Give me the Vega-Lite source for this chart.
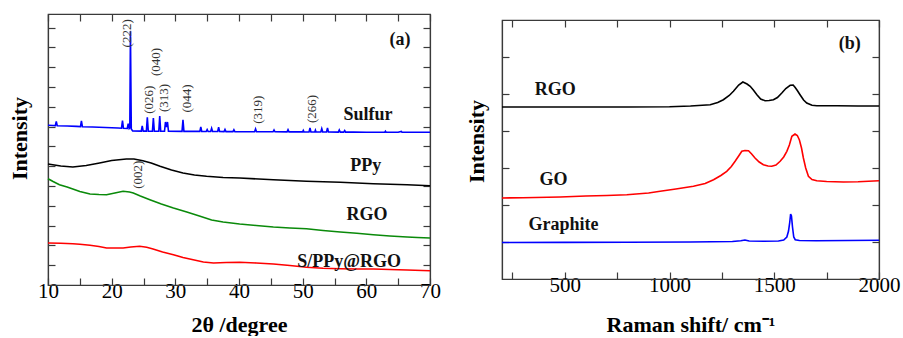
{
  "$schema": "https://vega.github.io/schema/vega-lite/v6.json",
  "padding": {"left": 7, "top": 12, "right": 5, "bottom": 0},
  "background": "white",
  "bounds": "flush",
  "center": true,
  "spacing": 72,
  "config": {
    "view": {"stroke": "#3a3a3a", "strokeWidth": 1.2},
    "font": "Liberation Serif",
    "axis": {
      "grid": false,
      "domainColor": "#3a3a3a",
      "domainWidth": 1.2,
      "tickColor": "#3a3a3a",
      "tickWidth": 1.2,
      "tickSize": -7,
      "labelFont": "Liberation Serif",
      "labelFontSize": 21,
      "labelColor": "black",
      "labelFlush": false,
      "labelOverlap": false,
      "titleFont": "Liberation Serif",
      "titleFontSize": 22,
      "titleFontWeight": "bold",
      "titleColor": "black"
    }
  },
  "resolve": {"scale": {"color": "independent"}},
  "datasets": {
    "xrd": [
      {"s":"Sulfur","x":10,"v":159.7},{"s":"Sulfur","x":10.8,"v":159.5},{"s":"Sulfur","x":11.15,"v":159.4},{"s":"Sulfur","x":11.3,"v":163.7},{"s":"Sulfur","x":11.45,"v":159.3},{"s":"Sulfur","x":13,"v":159},{"s":"Sulfur","x":14.5,"v":158.6},{"s":"Sulfur","x":15.1,"v":158.4},{"s":"Sulfur","x":15.25,"v":164},{"s":"Sulfur","x":15.4,"v":158.3},{"s":"Sulfur","x":17,"v":158},{"s":"Sulfur","x":19,"v":157.5},{"s":"Sulfur","x":21,"v":157},{"s":"Sulfur","x":21.55,"v":156.8},{"s":"Sulfur","x":21.7,"v":164.3},{"s":"Sulfur","x":21.85,"v":156.7},{"s":"Sulfur","x":22.45,"v":156.5},{"s":"Sulfur","x":22.6,"v":161.3},{"s":"Sulfur","x":22.75,"v":156.4},{"s":"Sulfur","x":22.85,"v":157},{"s":"Sulfur","x":22.95,"v":253.7},{"s":"Sulfur","x":23.08,"v":156},{"s":"Sulfur","x":23.3,"v":154},{"s":"Sulfur","x":24.65,"v":153.9},{"s":"Sulfur","x":24.8,"v":159},{"s":"Sulfur","x":24.95,"v":153.9},{"s":"Sulfur","x":25.45,"v":153.9},{"s":"Sulfur","x":25.6,"v":167.7},{"s":"Sulfur","x":25.75,"v":153.9},{"s":"Sulfur","x":26.4,"v":153.8},{"s":"Sulfur","x":26.55,"v":167},{"s":"Sulfur","x":26.7,"v":153.8},{"s":"Sulfur","x":27.4,"v":153.8},{"s":"Sulfur","x":27.55,"v":169},{"s":"Sulfur","x":27.7,"v":153.8},{"s":"Sulfur","x":28.3,"v":153.7},{"s":"Sulfur","x":28.45,"v":163},{"s":"Sulfur","x":28.6,"v":158},{"s":"Sulfur","x":28.77,"v":163},{"s":"Sulfur","x":28.92,"v":153.7},{"s":"Sulfur","x":31.05,"v":153.6},{"s":"Sulfur","x":31.2,"v":165.3},{"s":"Sulfur","x":31.35,"v":153.6},{"s":"Sulfur","x":33.85,"v":153.6},{"s":"Sulfur","x":34.0,"v":158},{"s":"Sulfur","x":34.15,"v":153.6},{"s":"Sulfur","x":34.85,"v":153.5},{"s":"Sulfur","x":35.0,"v":155.5},{"s":"Sulfur","x":35.15,"v":153.5},{"s":"Sulfur","x":35.55,"v":153.5},{"s":"Sulfur","x":35.7,"v":156.7},{"s":"Sulfur","x":35.85,"v":153.5},{"s":"Sulfur","x":36.65,"v":153.5},{"s":"Sulfur","x":36.8,"v":157.7},{"s":"Sulfur","x":36.95,"v":153.5},{"s":"Sulfur","x":37.65,"v":153.4},{"s":"Sulfur","x":37.8,"v":155.5},{"s":"Sulfur","x":37.95,"v":153.4},{"s":"Sulfur","x":39.05,"v":153.4},{"s":"Sulfur","x":39.2,"v":155.3},{"s":"Sulfur","x":39.35,"v":153.4},{"s":"Sulfur","x":42.45,"v":153.3},{"s":"Sulfur","x":42.6,"v":156},{"s":"Sulfur","x":42.75,"v":153.3},{"s":"Sulfur","x":45.35,"v":153.2},{"s":"Sulfur","x":45.5,"v":155},{"s":"Sulfur","x":45.65,"v":153.2},{"s":"Sulfur","x":47.55,"v":153.1},{"s":"Sulfur","x":47.7,"v":155.3},{"s":"Sulfur","x":47.85,"v":153.1},{"s":"Sulfur","x":50,"v":153.1},{"s":"Sulfur","x":50.1,"v":154.5},{"s":"Sulfur","x":50.2,"v":153.1},{"s":"Sulfur","x":51.0,"v":153},{"s":"Sulfur","x":51.15,"v":157},{"s":"Sulfur","x":51.3,"v":153},{"s":"Sulfur","x":51.9,"v":153},{"s":"Sulfur","x":52.0,"v":154.8},{"s":"Sulfur","x":52.1,"v":153},{"s":"Sulfur","x":52.85,"v":153},{"s":"Sulfur","x":53.0,"v":156.3},{"s":"Sulfur","x":53.15,"v":153},{"s":"Sulfur","x":53.75,"v":153},{"s":"Sulfur","x":53.9,"v":157},{"s":"Sulfur","x":54.05,"v":153},{"s":"Sulfur","x":55.6,"v":152.9},{"s":"Sulfur","x":55.75,"v":155},{"s":"Sulfur","x":55.9,"v":152.9},{"s":"Sulfur","x":56.45,"v":152.9},{"s":"Sulfur","x":56.6,"v":154.5},{"s":"Sulfur","x":56.75,"v":152.9},{"s":"Sulfur","x":58,"v":152.9},{"s":"Sulfur","x":60,"v":152.8},{"s":"Sulfur","x":62.9,"v":152.8},{"s":"Sulfur","x":63,"v":153.8},{"s":"Sulfur","x":63.1,"v":152.8},{"s":"Sulfur","x":65,"v":152.8},{"s":"Sulfur","x":65.5,"v":153.5},{"s":"Sulfur","x":65.6,"v":152.8},{"s":"Sulfur","x":68,"v":152.7},{"s":"Sulfur","x":70,"v":152.7},
      {"s":"PPy","x":10,"v":121},{"s":"PPy","x":11,"v":120},{"s":"PPy","x":12,"v":119},{"s":"PPy","x":13.9,"v":118},{"s":"PPy","x":16,"v":119.5},{"s":"PPy","x":18.1,"v":122},{"s":"PPy","x":20,"v":124.5},{"s":"PPy","x":22.3,"v":126},{"s":"PPy","x":23.5,"v":126},{"s":"PPy","x":24.9,"v":124.3},{"s":"PPy","x":26.2,"v":122},{"s":"PPy","x":27.6,"v":118.7},{"s":"PPy","x":29.4,"v":115},{"s":"PPy","x":31.2,"v":112},{"s":"PPy","x":33,"v":110},{"s":"PPy","x":34.9,"v":108.7},{"s":"PPy","x":37.5,"v":107.5},{"s":"PPy","x":40.1,"v":107},{"s":"PPy","x":45.4,"v":105.3},{"s":"PPy","x":50.6,"v":103.7},{"s":"PPy","x":55.9,"v":102.7},{"s":"PPy","x":61.1,"v":101.3},{"s":"PPy","x":66.4,"v":100.3},{"s":"PPy","x":70,"v":99.3},
      {"s":"RGO","x":10,"v":106.3},{"s":"RGO","x":10.8,"v":103.5},{"s":"RGO","x":11.8,"v":100.3},{"s":"RGO","x":13,"v":98},{"s":"RGO","x":13.9,"v":96},{"s":"RGO","x":15,"v":93.5},{"s":"RGO","x":16.6,"v":91},{"s":"RGO","x":18,"v":90.5},{"s":"RGO","x":19.2,"v":90.3},{"s":"RGO","x":20.5,"v":92},{"s":"RGO","x":21.8,"v":93.7},{"s":"RGO","x":22.8,"v":93},{"s":"RGO","x":23.4,"v":92},{"s":"RGO","x":24.5,"v":89},{"s":"RGO","x":26,"v":85.3},{"s":"RGO","x":27.8,"v":81},{"s":"RGO","x":29.7,"v":77},{"s":"RGO","x":31.8,"v":73},{"s":"RGO","x":33.9,"v":68.7},{"s":"RGO","x":35.7,"v":65},{"s":"RGO","x":37.5,"v":63},{"s":"RGO","x":40.1,"v":61},{"s":"RGO","x":42.7,"v":59.5},{"s":"RGO","x":45.4,"v":58},{"s":"RGO","x":48,"v":57},{"s":"RGO","x":50.6,"v":56.3},{"s":"RGO","x":53.2,"v":54.5},{"s":"RGO","x":55.9,"v":53},{"s":"RGO","x":58.5,"v":51.8},{"s":"RGO","x":61.1,"v":50.3},{"s":"RGO","x":63.7,"v":49},{"s":"RGO","x":66.4,"v":48},{"s":"RGO","x":68,"v":47.5},{"s":"RGO","x":70,"v":47},
      {"s":"S/PPy@RGO","x":10,"v":42},{"s":"S/PPy@RGO","x":12,"v":41.8},{"s":"S/PPy@RGO","x":13.9,"v":41.3},{"s":"S/PPy@RGO","x":15,"v":40.8},{"s":"S/PPy@RGO","x":16.6,"v":39.7},{"s":"S/PPy@RGO","x":18,"v":38.5},{"s":"S/PPy@RGO","x":19.2,"v":37},{"s":"S/PPy@RGO","x":20.5,"v":37},{"s":"S/PPy@RGO","x":21.8,"v":37},{"s":"S/PPy@RGO","x":23,"v":38},{"s":"S/PPy@RGO","x":24.4,"v":38.7},{"s":"S/PPy@RGO","x":25.5,"v":37.7},{"s":"S/PPy@RGO","x":26.5,"v":36},{"s":"S/PPy@RGO","x":28,"v":33},{"s":"S/PPy@RGO","x":29.7,"v":30.3},{"s":"S/PPy@RGO","x":31.2,"v":27.5},{"s":"S/PPy@RGO","x":32.8,"v":25.3},{"s":"S/PPy@RGO","x":34.4,"v":23},{"s":"S/PPy@RGO","x":36,"v":22},{"s":"S/PPy@RGO","x":38,"v":22.5},{"s":"S/PPy@RGO","x":40.1,"v":22.7},{"s":"S/PPy@RGO","x":42.7,"v":22},{"s":"S/PPy@RGO","x":45.4,"v":21},{"s":"S/PPy@RGO","x":48,"v":19.5},{"s":"S/PPy@RGO","x":50.6,"v":17.7},{"s":"S/PPy@RGO","x":53.2,"v":16.8},{"s":"S/PPy@RGO","x":55.9,"v":16.3},{"s":"S/PPy@RGO","x":58.5,"v":16},{"s":"S/PPy@RGO","x":61.1,"v":16},{"s":"S/PPy@RGO","x":63.7,"v":15.5},{"s":"S/PPy@RGO","x":66.4,"v":15},{"s":"S/PPy@RGO","x":70,"v":14.3}
    ],
    "xrdSeriesLabels": [
      {"x":60.27,"v":170.3,"t":"Sulfur"},{"x":59.9,"v":119.3,"t":"PPy"},{"x":60.1,"v":70.3,"t":"RGO"},{"x":57.3,"v":23,"t":"S/PPy@RGO"},{"x":65.3,"v":245.3,"t":"(a)"}
    ],
    "xrdPeakLabels": [
      {"x":22.48,"v":251.7,"t":"(222)"},{"x":25.83,"v":185.3,"t":"(026)"},{"x":26.89,"v":223,"t":"(040)"},{"x":28.24,"v":187,"t":"(313)"},{"x":31.76,"v":186.5,"t":"(044)"},{"x":43.0,"v":175.3,"t":"(319)"},{"x":51.5,"v":176,"t":"(266)"},{"x":24.15,"v":110.3,"t":"(002)"}
    ],
    "raman": [
      {"s":"RGO","x":200,"v":172},{"s":"RGO","x":400,"v":172},{"s":"RGO","x":600,"v":172},{"s":"RGO","x":800,"v":172},{"s":"RGO","x":1000,"v":172.3},{"s":"RGO","x":1100,"v":173},{"s":"RGO","x":1194,"v":174.3},{"s":"RGO","x":1230,"v":176.5},{"s":"RGO","x":1257,"v":179.3},{"s":"RGO","x":1285,"v":183.5},{"s":"RGO","x":1305,"v":187.7},{"s":"RGO","x":1330,"v":194},{"s":"RGO","x":1350,"v":197},{"s":"RGO","x":1370,"v":195},{"s":"RGO","x":1385,"v":192.7},{"s":"RGO","x":1400,"v":189},{"s":"RGO","x":1417,"v":184.3},{"s":"RGO","x":1435,"v":180},{"s":"RGO","x":1456,"v":178.3},{"s":"RGO","x":1475,"v":178.5},{"s":"RGO","x":1496,"v":179.3},{"s":"RGO","x":1515,"v":181.5},{"s":"RGO","x":1536,"v":186},{"s":"RGO","x":1555,"v":190.5},{"s":"RGO","x":1576,"v":193.7},{"s":"RGO","x":1590,"v":194},{"s":"RGO","x":1599,"v":191.7},{"s":"RGO","x":1610,"v":188.5},{"s":"RGO","x":1623,"v":184.3},{"s":"RGO","x":1640,"v":179},{"s":"RGO","x":1655,"v":176},{"s":"RGO","x":1680,"v":173.8},{"s":"RGO","x":1703,"v":173.3},{"s":"RGO","x":1800,"v":173.2},{"s":"RGO","x":1900,"v":173},{"s":"RGO","x":2000,"v":173},
      {"s":"GO","x":200,"v":81},{"s":"GO","x":300,"v":81.3},{"s":"GO","x":478,"v":82},{"s":"GO","x":600,"v":83},{"s":"GO","x":700,"v":83.5},{"s":"GO","x":796,"v":84.3},{"s":"GO","x":900,"v":86},{"s":"GO","x":955,"v":87.7},{"s":"GO","x":1030,"v":90},{"s":"GO","x":1114,"v":92.7},{"s":"GO","x":1170,"v":95.5},{"s":"GO","x":1210,"v":99.3},{"s":"GO","x":1245,"v":103.5},{"s":"GO","x":1273,"v":107.7},{"s":"GO","x":1295,"v":112.5},{"s":"GO","x":1313,"v":117.7},{"s":"GO","x":1330,"v":123},{"s":"GO","x":1345,"v":127.7},{"s":"GO","x":1360,"v":128.5},{"s":"GO","x":1377,"v":128.3},{"s":"GO","x":1392,"v":125},{"s":"GO","x":1408,"v":121},{"s":"GO","x":1428,"v":117},{"s":"GO","x":1448,"v":114.3},{"s":"GO","x":1470,"v":113},{"s":"GO","x":1488,"v":112.7},{"s":"GO","x":1508,"v":114},{"s":"GO","x":1528,"v":117.7},{"s":"GO","x":1545,"v":122},{"s":"GO","x":1560,"v":127.7},{"s":"GO","x":1572,"v":134},{"s":"GO","x":1584,"v":142.7},{"s":"GO","x":1599,"v":145},{"s":"GO","x":1610,"v":143.5},{"s":"GO","x":1620,"v":139},{"s":"GO","x":1630,"v":131},{"s":"GO","x":1639,"v":121},{"s":"GO","x":1650,"v":111},{"s":"GO","x":1663,"v":102.7},{"s":"GO","x":1680,"v":99.5},{"s":"GO","x":1703,"v":98.3},{"s":"GO","x":1750,"v":97.5},{"s":"GO","x":1830,"v":97},{"s":"GO","x":1900,"v":97.3},{"s":"GO","x":2000,"v":98.3},
      {"s":"Graphite","x":200,"v":36.5},{"s":"Graphite","x":500,"v":36.6},{"s":"Graphite","x":800,"v":36.8},{"s":"Graphite","x":1100,"v":37},{"s":"Graphite","x":1300,"v":37.5},{"s":"Graphite","x":1340,"v":38.3},{"s":"Graphite","x":1360,"v":39},{"s":"Graphite","x":1380,"v":38},{"s":"Graphite","x":1450,"v":37.7},{"s":"Graphite","x":1520,"v":38},{"s":"Graphite","x":1545,"v":39},{"s":"Graphite","x":1560,"v":42},{"s":"Graphite","x":1568,"v":48},{"s":"Graphite","x":1574,"v":57},{"s":"Graphite","x":1578,"v":65},{"s":"Graphite","x":1582,"v":63},{"s":"Graphite","x":1587,"v":52},{"s":"Graphite","x":1593,"v":42},{"s":"Graphite","x":1600,"v":39.3},{"s":"Graphite","x":1620,"v":38.5},{"s":"Graphite","x":1700,"v":38.3},{"s":"Graphite","x":1850,"v":38.5},{"s":"Graphite","x":2000,"v":38.7}
    ],
    "ramanLabels": [
      {"x":454,"v":189.3,"t":"RGO"},{"x":446,"v":99,"t":"GO"},{"x":494,"v":54,"t":"Graphite"},{"x":1860,"v":235.3,"t":"(b)"}
    ]
  },
  "hconcat": [
    {
      "width": 382,
      "height": 271,
      "resolve": {"axis": {"x": "independent", "y": "independent"}},
      "layer": [
        {
          "data": {"name": "xrd"},
          "mark": {"type": "line", "strokeWidth": 1.6},
          "encoding": {
            "x": {"field": "x", "type": "quantitative", "scale": {"domain": [10, 70], "nice": false, "zero": false},
              "axis": {"orient": "bottom", "values": [10,15,20,25,30,35,40,45,50,55,60,65,70], "format": "d",
                "labelExpr": "datum.value % 10 === 0 ? datum.label : ''", "labelPadding": 2,
                "title": "2θ /degree", "titleBaseline": "alphabetic", "titleY": 46}},
            "y": {"field": "v", "type": "quantitative", "scale": {"domain": [0, 271], "nice": false, "zero": false},
              "axis": {"orient": "left", "values": [19.8,39.6,59.4,79.2,99,118.8,138.6,158.4,178.2,198,217.8,237.6,257.4],
                "labels": false, "title": "Intensity", "titleAngle": 270, "titleAlign": "center", "titleBaseline": "alphabetic", "titleX": -22, "titleY": 124}},
            "color": {"field": "s", "type": "nominal", "legend": null,
              "scale": {"domain": ["Sulfur", "PPy", "RGO", "S/PPy@RGO"], "range": ["#0000ff", "#000000", "#0a8a0a", "#ff0000"]}}
          }
        },
        {
          "data": {"name": "xrdSeriesLabels"},
          "mark": {"type": "text", "font": "Liberation Serif", "fontWeight": "bold", "fontSize": 18, "color": "#111", "align": "center", "baseline": "middle"},
          "encoding": {
            "x": {"field": "x", "type": "quantitative", "axis": {"orient": "top", "values": [10,15,20,25,30,35,40,45,50,55,60,65,70], "labels": false, "title": null}},
            "y": {"field": "v", "type": "quantitative", "axis": {"orient": "right", "values": [19.8,39.6,59.4,79.2,99,118.8,138.6,158.4,178.2,198,217.8,237.6,257.4], "labels": false, "title": null}},
            "text": {"field": "t"}
          }
        },
        {
          "data": {"name": "xrdPeakLabels"},
          "mark": {"type": "text", "font": "Liberation Serif", "fontSize": 13, "color": "#333", "angle": 270, "align": "center", "baseline": "middle"},
          "encoding": {
            "x": {"field": "x", "type": "quantitative", "axis": null},
            "y": {"field": "v", "type": "quantitative", "axis": null},
            "text": {"field": "t"}
          }
        }
      ]
    },
    {
      "width": 377,
      "height": 259,
      "resolve": {"axis": {"x": "independent", "y": "independent"}},
      "layer": [
        {
          "data": {"name": "raman"},
          "mark": {"type": "line", "strokeWidth": 1.6},
          "encoding": {
            "x": {"field": "x", "type": "quantitative", "scale": {"domain": [200, 2000], "nice": false, "zero": false},
              "axis": {"orient": "bottom", "values": [250,500,750,1000,1250,1500,1750,2000], "format": "d",
                "labelExpr": "datum.value % 500 === 0 ? datum.label : ''", "labelPadding": 2,
                "title": "Raman shift/ cm⁻¹", "titleBaseline": "alphabetic", "titleY": 52}},
            "y": {"field": "v", "type": "quantitative", "scale": {"domain": [0, 259], "nice": false, "zero": false},
              "axis": {"orient": "left", "values": [37,74,111,148,185,222],
                "labels": false, "title": "Intensity", "titleAngle": 270, "titleAlign": "center", "titleBaseline": "alphabetic", "titleX": -19, "titleY": 121}},
            "color": {"field": "s", "type": "nominal", "legend": null,
              "scale": {"domain": ["RGO", "GO", "Graphite"], "range": ["#000000", "#ff0000", "#0000ff"]}}
          }
        },
        {
          "data": {"name": "ramanLabels"},
          "mark": {"type": "text", "font": "Liberation Serif", "fontWeight": "bold", "fontSize": 18, "color": "#111", "align": "center", "baseline": "middle"},
          "encoding": {
            "x": {"field": "x", "type": "quantitative", "axis": {"orient": "top", "values": [250,500,750,1000,1250,1500,1750,2000], "labels": false, "title": null}},
            "y": {"field": "v", "type": "quantitative", "axis": {"orient": "right", "values": [37,74,111,148,185,222], "labels": false, "title": null}},
            "text": {"field": "t"}
          }
        }
      ]
    }
  ]
}
